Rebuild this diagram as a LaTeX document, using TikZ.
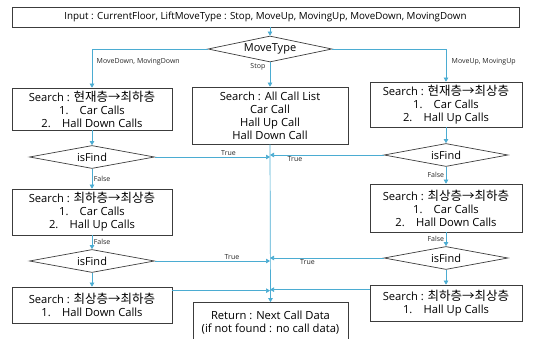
\documentclass[tikz,border=0pt]{standalone}
\usepackage{fontspec}
\setmainfont{Open Sans}
\newfontfamily\kr{Noto Sans CJK KR}
\newcommand{\krt}[1]{{\kr\fontsize{12.5}{13}\selectfont #1}}
\usetikzlibrary{shapes.geometric,arrows.meta}
\definecolor{ln}{RGB}{75,172,210}
\definecolor{bd}{RGB}{60,60,60}
\begin{document}
\begin{tikzpicture}[x=1pt,y=-1pt,
  box/.style={draw=bd, line width=0.7pt, fill=white, inner sep=0pt, align=center, font=\fontsize{11.2}{13}\selectfont},
  dec/.style={diamond, draw=bd, line width=0.7pt, fill=white, inner sep=0pt, aspect=5, font=\fontsize{11}{12}\selectfont},
  arr/.style={draw=ln, line width=0.7pt, -{Triangle[length=4pt,width=4.5pt]}},
  lab/.style={font=\fontsize{7}{8}\selectfont, inner sep=1.5pt, text=black!85}]
\useasboundingbox (0,0) rectangle (533,339);
\node[box, minimum width=507pt, minimum height=20pt, font=\fontsize{9.8}{12}\selectfont] (top) at (265.5,17) {Input : CurrentFloor, LiftMoveType : Stop, MoveUp, MovingUp, MoveDown, MovingDown};
\node[dec, minimum width=124pt, minimum height=26pt] (mt) at (270,49) {MoveType};
\node[box, minimum width=160pt, minimum height=42pt] (L1) at (92,109) {Search : \krt{현재층→최하층}\\1.\hspace{1em}Car Calls\\2.\hspace{1em}Hall Down Calls};
\node[box, minimum width=156pt, minimum height=57pt] (M) at (270,115.5) {Search : All Call List\\Car Call\\Hall Up Call\\Hall Down Call};
\node[box, minimum width=152pt, minimum height=45pt] (R1) at (446,104.5) {Search : \krt{현재층→최상층}\\1.\hspace{1em}Car Calls\\2.\hspace{1em}Hall Up Calls};
\node[dec, minimum width=125pt, minimum height=23pt] (isL1) at (92,157) {isFind};
\node[box, minimum width=160pt, minimum height=46pt] (L2) at (92,212) {Search : \krt{최하층→최상층}\\1.\hspace{1em}Car Calls\\2.\hspace{1em}Hall Up Calls};
\node[dec, minimum width=125pt, minimum height=23pt] (isL2) at (92,261) {isFind};
\node[box, minimum width=160pt, minimum height=36pt] (L3) at (92,305) {Search : \krt{최상층→최하층}\\1.\hspace{1em}Hall Down Calls};
\node[dec, minimum width=124pt, minimum height=23pt] (isR1) at (446,155) {isFind};
\node[box, minimum width=152pt, minimum height=48pt] (R2) at (446,208) {Search : \krt{최상층→최하층}\\1.\hspace{1em}Car Calls\\2.\hspace{1em}Hall Down Calls};
\node[dec, minimum width=124pt, minimum height=23pt] (isR2) at (446,258) {isFind};
\node[box, minimum width=152pt, minimum height=36pt] (R3) at (446,303) {Search : \krt{최하층→최상층}\\1.\hspace{1em}Hall Up Calls};
\node[box, minimum width=155pt, minimum height=40pt] (ret) at (270.5,322.5) {Return : Next Call Data\\(if not found : no call data)};
% connectors
\draw[arr] (top.south -| mt.north) -- (mt.north);
\draw[arr] (mt.west) -| (L1.north);
\node[lab, anchor=west] at (95,62) {MoveDown, MovingDown};
\draw[arr] (mt.south) -- (M.north);
\node[lab, anchor=east] at (267,67) {Stop};
\draw[arr] (mt.east) -| (R1.north);
\node[lab, anchor=west] at (450,62) {MoveUp, MovingUp};
\draw[arr] (L1.south) -- (isL1.north);
\draw[arr] (isL1.south) -- (L2.north) node[lab, midway, anchor=west] {False};
\draw[arr] (L2.south) -- (isL2.north) node[lab, midway, anchor=west] {False};
\draw[arr] (isL2.south) -- (L3.north);
\draw[arr] (isL1.east) -- (isL1.east -| M.south) node[lab, pos=0.64, above] {True};
\draw[arr] (isL2.east) -- (isL2.east -| M.south) node[lab, pos=0.67, above] {True};
\draw[arr] ([yshift=-4pt]L3.north east) -- ([yshift=-4pt]L3.north east -| M.south);
\draw[arr] (R1.south) -- (isR1.north);
\draw[arr] (isR1.south) -- (R2.north) node[lab, midway, anchor=east] {False};
\draw[arr] (R2.south) -- (isR2.north) node[lab, midway, anchor=east] {False};
\draw[arr] (isR2.south) -- (R3.north);
\draw[arr] (isR1.west) -- (isR1.west -| M.south) node[lab, pos=0.78, below] {True};
\draw[arr] (isR2.west) -- (isR2.west -| M.south) node[lab, pos=0.67, below] {True};
\draw[arr] ([yshift=-5pt]R3.north west) -- ([yshift=-5pt]R3.north west -| M.south);
\draw[arr] (M.south) -- (ret.north);
\end{tikzpicture}
\end{document}
